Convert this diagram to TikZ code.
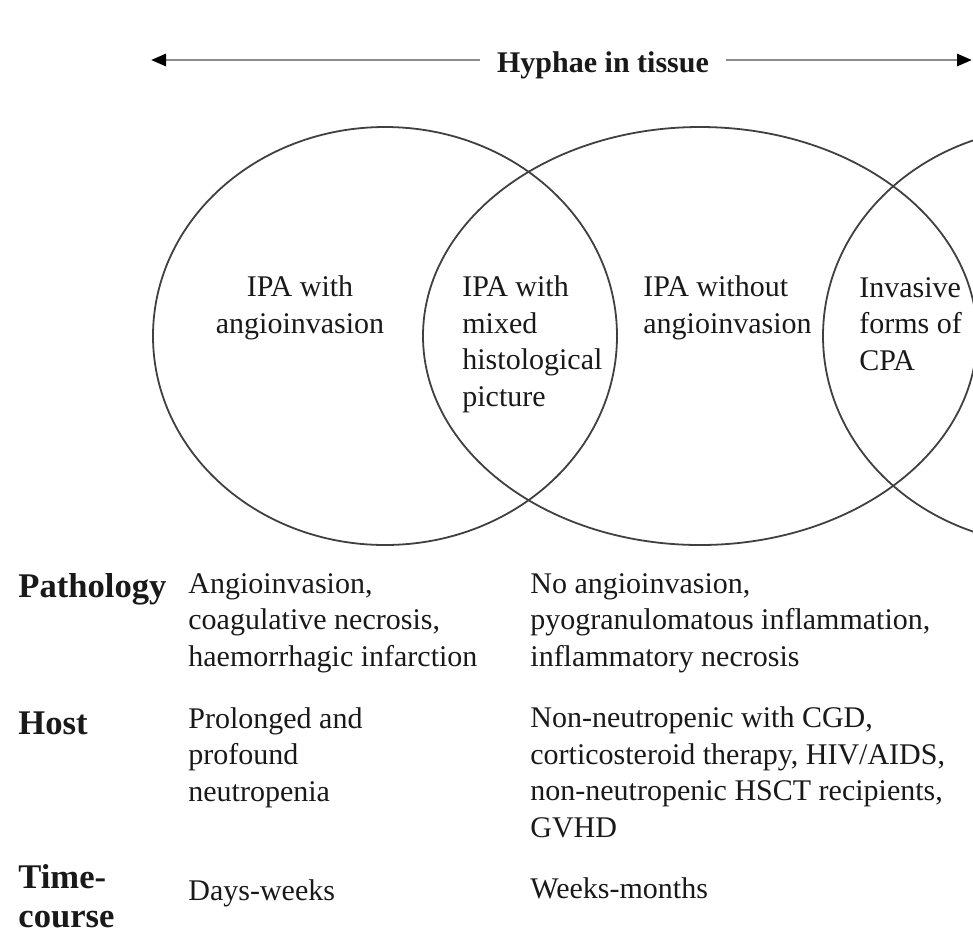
\documentclass[tikz,border=0pt]{standalone}
\usepackage{fontspec}
\setmainfont{Liberation Serif}
\usetikzlibrary{positioning,arrows.meta}
\colorlet{venngray}{black!75}
\colorlet{axisgray}{black!45}

\begin{document}
\begin{tikzpicture}[x=0.5pt,y=-0.5pt,
  every node/.style={font=\fontsize{15}{18.25}\selectfont,text=black!90,inner sep=0pt},
  venn/.style={draw=venngray,line width=0.9pt},
  vennlabel/.style={anchor=base west,align=left},
  rowhead/.style={anchor=base west,align=left,font=\fontsize{17.3}{19.5}\selectfont\bfseries},
  celltext/.style={anchor=base west,align=left}]
  \clip (0,0) rectangle (973,944);

  % arrow over the top
  \node[font=\fontsize{15}{18}\selectfont\bfseries,inner xsep=8.5pt,anchor=base] (hyphae) at (603,72) {Hyphae in tissue};
  \coordinate (hleft) at (151,60);
  \coordinate (hright) at (972,60);
  \draw[axisgray,line width=1.4pt,-{Triangle[black,length=7.5pt,width=6pt]}] (hleft -| hyphae.west) -- (hleft);
  \draw[axisgray,line width=1.4pt,-{Triangle[black,length=7.5pt,width=6pt]}] (hright -| hyphae.east) -- (hright);

  % the three sets
  \draw[venn] (385,336) ellipse [x radius=232, y radius=209];
  \draw[venn] (700,336) ellipse [x radius=277, y radius=209];
  \draw[venn] (1055,336) ellipse [x radius=232, y radius=209];

  % (base = last line of each text)
  \node[anchor=base,align=center] (angio) at (300,333) {IPA with\\angioinvasion};
  \node[vennlabel] (mixed) at (462,406) {IPA with\\mixed\\histological\\picture};
  \node[vennlabel] (noangio) at (643,333) {IPA without\\angioinvasion};
  \node[vennlabel] (cpa) at (859,370) {Invasive\\forms of\\CPA};

  % rows below
  \node[rowhead] (path) at (18,597) {Pathology};
  \node[celltext] (pathA) at (188,666) {Angioinvasion,\\coagulative necrosis,\\haemorrhagic infarction};
  \node[celltext] (pathB) at (530,666) {No angioinvasion,\\pyogranulomatous inflammation,\\inflammatory necrosis};

  \node[rowhead] (host) at (18,734) {Host};
  \node[celltext] (hostA) at (188,801) {Prolonged and\\profound\\neutropenia};
  \node[celltext] (hostB) at (530,837) {Non-neutropenic with CGD,\\corticosteroid therapy, HIV/AIDS,\\non-neutropenic HSCT recipients,\\GVHD};

  \node[rowhead] (time) at (18,927) {Time-\\course};
  \node[celltext] (timeA) at (188,900) {Days-weeks};
  \node[celltext] (timeB) at (530,898) {Weeks-months};
\end{tikzpicture}
\end{document}
